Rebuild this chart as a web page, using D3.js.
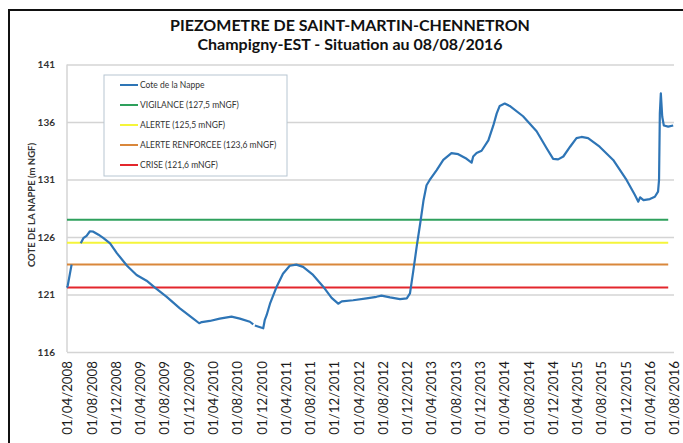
<!DOCTYPE html>
<html>
<head>
<meta charset="utf-8">
<script src="https://cdn.jsdelivr.net/npm/d3@7"></script>
<style>
  body { margin: 0; background: #fff; }
  svg { display: block; font-family: Lato, "Open Sans", sans-serif; }
</style>
</head>
<body>
<svg id="chart" width="683" height="443"></svg>
<script>
// niveau de la nappe (m NGF), null = trou dans la série
const dates = [
  "2008-04-01","2008-04-05","2008-04-24",null,
  "2008-06-09","2008-06-22","2008-07-08","2008-07-25","2008-08-11","2008-09-06",
  "2008-10-01","2008-11-03","2008-12-07","2009-01-27","2009-03-16","2009-05-05",
  "2009-06-16","2009-08-14","2009-10-19","2009-12-25","2010-01-24","2010-02-06",
  "2010-03-18","2010-05-07","2010-07-05","2010-08-16","2010-10-05","2010-10-22",null,
  "2010-10-30","2010-12-11","2010-12-19","2010-12-28","2011-01-14","2011-02-17",
  "2011-03-20","2011-04-23","2011-05-26","2011-06-29","2011-08-18","2011-10-07",
  "2011-11-19","2011-12-22","2012-01-09","2012-03-06","2012-05-12","2012-07-01",
  "2012-07-26","2012-09-07","2012-10-27","2012-11-30","2012-12-16","2013-01-02",
  "2013-01-19","2013-02-08","2013-02-22","2013-03-09","2013-03-25","2013-04-28",
  "2013-06-01","2013-07-12","2013-08-15","2013-09-26","2013-10-21","2013-10-29",
  "2013-11-15","2013-12-10","2014-01-13","2014-02-07","2014-02-24","2014-03-11",
  "2014-04-05","2014-04-30","2014-07-06","2014-09-12","2014-11-02","2014-12-04",
  "2014-12-29","2015-01-24","2015-02-27","2015-03-31","2015-04-25","2015-05-28",
  "2015-07-25","2015-10-01","2015-12-07","2016-01-18","2016-02-04","2016-02-13",
  "2016-03-01","2016-04-02","2016-04-27","2016-05-13","2016-05-18","2016-05-22",
  "2016-05-27","2016-06-03","2016-06-11","2016-07-03","2016-07-28"
];
const levels = [
  121.6,121.8,123.6,null,
  125.45,125.9,126.1,126.5,126.46,126.2,
  125.9,125.45,124.6,123.5,122.7,122.2,
  121.6,120.8,119.8,118.9,118.5,118.6,
  118.7,118.9,119.07,118.9,118.63,118.4,null,
  118.3,118.06,118.8,119.2,120.2,121.7,
  122.8,123.5,123.6,123.4,122.7,121.7,
  120.7,120.2,120.4,120.5,120.67,120.8,
  120.9,120.75,120.6,120.67,121.1,123.1,
  125.2,127.5,129.2,130.5,130.96,131.8,
  132.7,133.3,133.2,132.8,132.46,133.0,
  133.3,133.5,134.4,135.7,136.75,137.4,
  137.6,137.4,136.5,135.2,133.7,132.8,
  132.75,133.0,133.85,134.6,134.7,134.6,
  133.85,132.7,130.96,129.65,129.07,129.45,
  129.2,129.3,129.5,129.94,130.96,136.75,
  138.5,136.46,135.7,135.6,135.7
];

// seuils
const thresholdNames = ["VIGILANCE (127,5 mNGF)","ALERTE (125,5 mNGF)","ALERTE RENFORCEE (123,6 mNGF)","CRISE (121,6 mNGF)"];
const thresholdValues = [127.5, 125.5, 123.6, 121.6];
const thresholdPeriod = ["2008-04-01", "2016-07-03"];
const seriesName = "Cote de la Nappe";

const yTicks = [116, 121, 126, 131, 136, 141];
const xTickLabels = [
  "01/04/2008","01/08/2008","01/12/2008","01/04/2009","01/08/2009","01/12/2009",
  "01/04/2010","01/08/2010","01/12/2010","01/04/2011","01/08/2011","01/12/2011",
  "01/04/2012","01/08/2012","01/12/2012","01/04/2013","01/08/2013","01/12/2013",
  "01/04/2014","01/08/2014","01/12/2014","01/04/2015","01/08/2015","01/12/2015",
  "01/04/2016","01/08/2016"
];

const lineColor = "#2e75b6";
const thresholdColors = ["#2ea05c", "#f5f53a", "#d9873b", "#e3262c"];

const parseIso = d3.timeParse("%Y-%m-%d");
const parseFr = d3.timeParse("%d/%m/%Y");
const fmtFr = d3.timeFormat("%d/%m/%Y");

var svg = d3.select("#chart");

var plotLeft = 67, plotRight = 674, plotTop = 64.5, plotBottom = 352;

var xTicks = xTickLabels.map(parseFr);
var x = d3.scaleTime()
    .domain([xTicks[0], xTicks[xTicks.length - 1]])
    .range([plotLeft, plotRight]);
var y = d3.scaleLinear()
    .domain([yTicks[0], yTicks[yTicks.length - 1]])
    .range([plotBottom, plotTop]);

// cadre
svg.append("rect")
    .attr("x", 9).attr("y", 10)
    .attr("width", 700).attr("height", 460)
    .attr("fill", "none")
    .attr("stroke", "#111")
    .attr("stroke-width", 2);

// titres
svg.append("text")
    .attr("x", 350).attr("y", 31)
    .attr("text-anchor", "middle")
    .attr("font-size", 16).attr("font-weight", "bold")
    .attr("fill", "#111")
    .text("PIEZOMETRE DE SAINT-MARTIN-CHENNETRON");
svg.append("text")
    .attr("x", 350).attr("y", 49.5)
    .attr("text-anchor", "middle")
    .attr("font-size", 16).attr("font-weight", "bold")
    .attr("fill", "#111")
    .text("Champigny-EST - Situation au 08/08/2016");

// grille horizontale
var yAxis = svg.append("g")
    .attr("transform", "translate(" + plotLeft + ",0)")
    .call(d3.axisLeft(y).tickValues(yTicks).tickSize(-(plotRight - plotLeft)).tickPadding(12).tickFormat(d3.format("d")));
yAxis.select(".domain").remove();
yAxis.selectAll("line").attr("stroke", "#d4d4d4").attr("stroke-width", 1.5);
yAxis.selectAll("text")
    .attr("font-family", "Lato, sans-serif")
    .attr("font-size", 10).attr("font-weight", "bold")
    .attr("fill", "#333");

// axe vertical
svg.append("line")
    .attr("x1", plotLeft).attr("x2", plotLeft)
    .attr("y1", plotTop).attr("y2", plotBottom)
    .attr("stroke", "#d4d4d4").attr("stroke-width", 1.5);

// axe des dates
var xAxis = svg.append("g")
    .attr("transform", "translate(0," + plotBottom + ")")
    .call(d3.axisBottom(x).tickValues(xTicks).tickSize(0).tickFormat(fmtFr));
xAxis.select(".domain").remove();
xAxis.selectAll("text")
    .attr("font-family", "Lato, sans-serif")
    .attr("font-size", 13.3)
    .attr("fill", "#1a1a1a")
    .attr("text-anchor", "end")
    .attr("transform", "rotate(-90)")
    .attr("x", -9).attr("y", 0).attr("dy", "0.36em");

svg.append("text")
    .attr("transform", "translate(35,205) rotate(-90)")
    .attr("text-anchor", "middle")
    .attr("font-size", 9.5).attr("font-weight", "bold")
    .attr("fill", "#333")
    .text("COTE DE LA NAPPE (m NGF)");

// seuils
var t0 = parseIso(thresholdPeriod[0]), t1 = parseIso(thresholdPeriod[1]);
svg.append("g").selectAll("line")
    .data(thresholdValues)
    .enter().append("line")
      .attr("x1", x(t0)).attr("x2", x(t1))
      .attr("y1", function(d) { return y(d); })
      .attr("y2", function(d) { return y(d); })
      .attr("stroke", function(d, i) { return thresholdColors[i]; })
      .attr("stroke-width", 2);

// cote de la nappe
var points = dates.map(function(d, i) {
  return { date: d ? parseIso(d) : null, value: levels[i] };
});
var line = d3.line()
    .defined(function(d) { return d.value !== null; })
    .x(function(d) { return x(d.date); })
    .y(function(d) { return y(d.value); });
svg.append("path")
    .datum(points)
    .attr("d", line)
    .attr("fill", "none")
    .attr("stroke", lineColor)
    .attr("stroke-width", 2.2)
    .attr("stroke-linejoin", "round");

// légende
var legendItems = [seriesName].concat(thresholdNames);
var legendColors = [lineColor].concat(thresholdColors);
var legend = svg.append("g").attr("transform", "translate(104,75)");
legend.append("rect")
    .attr("width", 183).attr("height", 101)
    .attr("fill", "#fff")
    .attr("stroke", "#b7c6d2").attr("stroke-width", 1);
var rows = legend.selectAll("g.row")
    .data(legendItems)
    .enter().append("g")
      .attr("class", "row")
      .attr("transform", function(d, i) { return "translate(0," + (10 + i * 20) + ")"; });
rows.append("line")
    .attr("x1", 16).attr("x2", 34)
    .attr("stroke", function(d, i) { return legendColors[i]; })
    .attr("stroke-width", 2);
rows.append("text")
    .attr("x", 36).attr("dy", "0.35em")
    .attr("font-size", 8.5)
    .attr("fill", "#333")
    .text(function(d) { return d; });
</script>
</body>
</html>
